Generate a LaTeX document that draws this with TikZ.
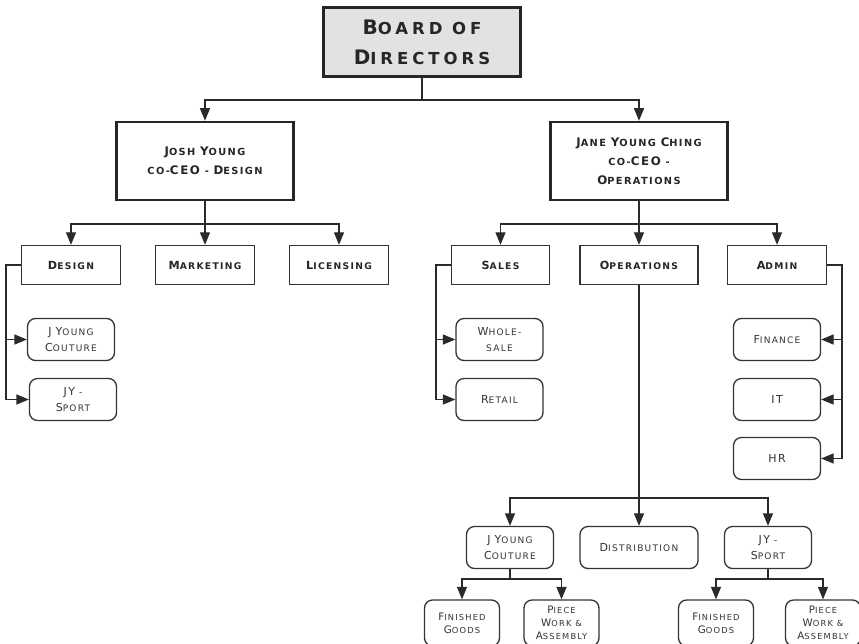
\documentclass[tikz,border=0pt]{standalone}
\usepackage{fontspec}
\setmainfont{DejaVu Sans}[LetterSpace=14, BoldFont={DejaVu Sans Bold}]
\newfontfamily\boardfont{DejaVu Sans}[LetterSpace=24, BoldFont={DejaVu Sans Bold}]
\usetikzlibrary{arrows.meta}
% fake small caps: initial capitals set larger than the rest
\newcommand\Ksize{10}
\newcommand\K[1]{{\fontsize{\Ksize}{\baselineskip}\selectfont #1}}
\definecolor{linec}{HTML}{2A2A2A}
\definecolor{boardfill}{HTML}{E2E2E2}
\tikzset{
  conn/.style={draw=linec, line width=1.3pt},
  arr/.style={conn, -{Triangle[length=12.5pt,width=10pt]}},
  boardbox/.style={draw=black!85, line width=3pt, fill=boardfill,
    minimum width=197, minimum height=69, align=center, text=black!85,
    inner sep=0pt,
    font={\boardfont\bfseries\fontsize{16.5}{30}\selectfont\def\Ksize{20}}},
  ceobox/.style={draw=black!85, line width=2.6pt, minimum width=177,
    minimum height=78, align=center, text=black!85, inner sep=0pt,
    font={\bfseries\fontsize{9.8}{19}\selectfont\def\Ksize{11.8}}},
  deptbox/.style={draw=black!80, line width=1.4pt, minimum height=39,
    align=center, text=black!85, inner sep=0pt,
    font={\bfseries\fontsize{9.2}{12}\selectfont\def\Ksize{11.2}}},
  unitbox/.style={draw=black!80, line width=1.3pt, rounded corners=8pt,
    minimum width=87, minimum height=42, align=center, text=black!80,
    inner sep=0pt,
    font={\fontsize{9}{15.5}\selectfont\def\Ksize{11}}},
  smallunit/.style={unitbox, minimum width=75, minimum height=46,
    font={\fontsize{8.3}{13}\selectfont\def\Ksize{10.3}}},
}
\begin{document}
\begin{tikzpicture}[x=1pt, y=-1pt]
\clip (0,0) rectangle (859,643);
\fill[white] (0,0) rectangle (859,643);

% top level
\node[boardbox] (board) at (422,42) {\K{B}OARD OF\\\K{D}IRECTORS};
\node[ceobox] (josh) at (205,161) {\K{J}OSH \K{Y}OUNG\\CO-\K{CEO} - \K{D}ESIGN};
\node[ceobox] (jane) at (639,161) {\K{J}ANE \K{Y}OUNG \K{C}HING\\CO-\K{CEO} -\\\K{O}PERATIONS};

% departments
\node[deptbox, minimum width=99] (design) at (71,265) {\K{D}ESIGN};
\node[deptbox, minimum width=99] (marketing) at (205,265) {\K{M}ARKETING};
\node[deptbox, minimum width=99] (licensing) at (339,265) {\K{L}ICENSING};
\node[deptbox, minimum width=98] (sales) at (500.5,265) {\K{S}ALES};
\node[deptbox, minimum width=118] (operations) at (639,265) {\K{O}PERATIONS};
\node[deptbox, minimum width=99] (admin) at (777,265) {\K{A}DMIN};

% units under design
\node[unitbox] (jyc1) at (71,339.5) {\K{J} \K{Y}OUNG\\\K{C}OUTURE};
\node[unitbox] (jys1) at (73,399.5) {\K{JY} -\\\K{S}PORT};

% units under sales
\node[unitbox] (whole) at (499.5,339.5) {\K{W}HOLE-\\SALE};
\node[unitbox] (retail) at (499.5,399.5) {\K{R}ETAIL};

% units under admin
\node[unitbox] (finance) at (777,339.5) {\K{F}INANCE};
\node[unitbox] (it) at (777,399.5) {\K{IT}};
\node[unitbox] (hr) at (777,458.5) {\K{HR}};

% units under operations
\node[unitbox] (jyc2) at (510,547.5) {\K{J} \K{Y}OUNG\\\K{C}OUTURE};
\node[unitbox, minimum width=118] (dist) at (639,547.5) {\K{D}ISTRIBUTION};
\node[unitbox] (jys2) at (768,547.5) {\K{JY} -\\\K{S}PORT};

\node[smallunit] (fg1) at (462,623) {\K{F}INISHED\\\K{G}OODS};
\node[smallunit] (pw1) at (561.5,623) {\K{P}IECE\\\K{W}ORK \&\\\K{A}SSEMBLY};
\node[smallunit] (fg2) at (716,623) {\K{F}INISHED\\\K{G}OODS};
\node[smallunit] (pw2) at (823,623) {\K{P}IECE\\\K{W}ORK \&\\\K{A}SSEMBLY};

% board to co-CEOs
\coordinate (bsplit) at (422,100);
\draw[conn] (board.south) -- (bsplit);
\draw[arr] (bsplit) -| (josh.north);
\draw[arr] (bsplit) -| (jane.north);

% Josh Young to his departments
\coordinate (jsplit) at (205,224);
\draw[conn] (josh.south) -- (jsplit);
\draw[arr] (jsplit) -| (design.north);
\draw[arr] (jsplit) -- (marketing.north);
\draw[arr] (jsplit) -| (licensing.north);

% Jane Young Ching to her departments
\coordinate (ksplit) at (639,224);
\draw[conn] (jane.south) -- (ksplit);
\draw[arr] (ksplit) -| (sales.north);
\draw[arr] (ksplit) -- (operations.north);
\draw[arr] (ksplit) -| (admin.north);

% design side branch
\coordinate (dbus) at (6,265);
\draw[arr] (design.west) -- (dbus) |- (jyc1.west);
\draw[arr] (dbus) |- (jys1.west);

% sales side branch
\coordinate (sbus) at (436,265);
\draw[arr] (sales.west) -- (sbus) |- (whole.west);
\draw[arr] (sbus) |- (retail.west);

% admin side branch
\coordinate (abus) at (842,265);
\draw[arr] (admin.east) -- (abus) |- (finance.east);
\draw[arr] (abus) |- (it.east);
\draw[arr] (abus) |- (hr.east);

% operations
\coordinate (osplit) at (639,498);
\draw[conn] (operations.south) -- (osplit);
\draw[arr] (osplit) -| (jyc2.north);
\draw[arr] (osplit) -- (dist.north);
\draw[arr] (osplit) -| (jys2.north);

\coordinate (csplit) at (510,579);
\draw[conn] (jyc2.south) -- (csplit);
\draw[arr] (csplit) -| (fg1.north);
\draw[arr] (csplit) -| (pw1.north);

\coordinate (ysplit) at (768,579);
\draw[conn] (jys2.south) -- (ysplit);
\draw[arr] (ysplit) -| (fg2.north);
\draw[arr] (ysplit) -| (pw2.north);
\end{tikzpicture}
\end{document}
